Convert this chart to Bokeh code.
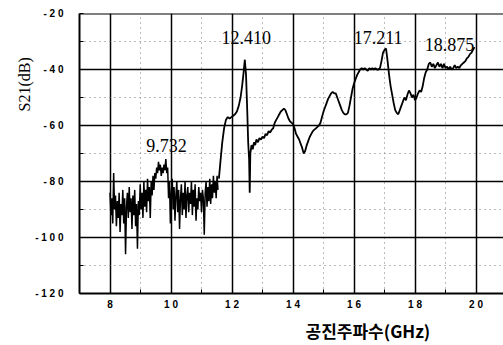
import numpy as np
from bokeh.plotting import figure
from bokeh.models import (Range1d, SingleIntervalTicker, Label, Span, Title)
from bokeh.embed import file_html
from bokeh.resources import INLINE

# ---------------- data ----------------
freq_noise = [8.00, 8.03, 8.06, 8.09, 8.12, 8.15, 8.18, 8.21, 8.24, 8.27,
              8.30, 8.33, 8.36, 8.39, 8.42, 8.45, 8.48, 8.51, 8.54, 8.57,
              8.60, 8.63, 8.66, 8.69, 8.72, 8.75, 8.78, 8.81, 8.84, 8.87,
              8.90, 8.93, 8.96, 8.99, 9.02, 9.05, 9.08, 9.11, 9.14, 9.17,
              9.20, 9.23, 9.26, 9.29, 9.32, 9.35, 9.38, 9.41, 9.44, 9.47,
              9.50, 9.53, 9.56, 9.59, 9.62, 9.65, 9.68, 9.71, 9.74, 9.77,
              9.80, 9.83, 9.86, 9.89, 9.92, 9.95, 9.98, 10.01, 10.04, 10.07,
              10.10, 10.13, 10.16, 10.19, 10.22, 10.25, 10.28, 10.31, 10.34, 10.37,
              10.40, 10.43, 10.46, 10.49, 10.52, 10.55, 10.58, 10.61, 10.64, 10.67,
              10.70, 10.73, 10.76, 10.79, 10.82, 10.85, 10.88, 10.91, 10.94, 10.97,
              11.00, 11.03, 11.06, 11.09, 11.12, 11.15, 11.18, 11.21, 11.24, 11.27,
              11.30, 11.33, 11.36, 11.39, 11.42, 11.45, 11.48, 11.51, 11.54]
s21_noise = [-84, -92, -86, -95, -77, -90, -85, -96, -87, -93,
             -84, -98, -88, -92, -83, -95, -86, -106, -89, -84,
             -93, -82, -91, -86, -97, -85, -92, -83, -96, -88,
             -104, -87, -92, -81, -90, -84, -93, -80, -89, -83,
             -91, -79, -87, -82, -93, -80, -85, -78, -83, -77,
             -79, -75, -77, -73, -76, -74, -78, -75, -77, -74,
             -76, -72, -77, -75, -86, -80, -95, -84, -79, -90,
             -82, -94, -85, -80, -91, -83, -97, -86, -81, -92,
             -84, -90, -80, -93, -85, -82, -91, -84, -88, -80,
             -92, -83, -89, -81, -94, -86, -90, -82, -87, -84,
             -91, -83, -86, -99, -84, -80, -89, -82, -87, -79,
             -88, -81, -86, -78, -84, -80, -86, -78, -83]

freq_smooth = [11.57, 11.62, 11.68, 11.74, 11.80, 11.86, 11.92, 11.98, 12.04, 12.10,
               12.16, 12.22, 12.28, 12.33, 12.38, 12.42, 12.46, 12.50, 12.53, 12.56,
               12.58, 12.60, 12.64, 12.68, 12.72, 12.76, 12.80, 12.85, 12.90, 12.95,
               13.00, 13.05, 13.10, 13.15, 13.20, 13.25, 13.30, 13.35, 13.40, 13.45,
               13.50, 13.55, 13.60, 13.65, 13.70, 13.75, 13.80, 13.85, 13.90, 13.95,
               14.00, 14.05, 14.10, 14.15, 14.20, 14.25, 14.30, 14.35, 14.40, 14.45,
               14.50, 14.55, 14.60, 14.65, 14.70, 14.75, 14.80, 14.85, 14.90, 14.95,
               15.00, 15.05, 15.10, 15.15, 15.20, 15.25, 15.30, 15.35, 15.40, 15.45,
               15.50, 15.55, 15.60, 15.65, 15.70, 15.75, 15.80, 15.85, 15.90, 15.95,
               16.00, 16.05, 16.10, 16.15, 16.20, 16.25, 16.30, 16.35, 16.40, 16.45,
               16.50, 16.55, 16.60, 16.65, 16.70, 16.75, 16.80, 16.85, 16.90, 16.95,
               17.00, 17.05, 17.10, 17.15, 17.20, 17.25, 17.30, 17.35, 17.40, 17.45,
               17.50, 17.55, 17.60, 17.65, 17.70, 17.75, 17.80, 17.85, 17.90, 17.95,
               18.00, 18.05, 18.10, 18.15, 18.20, 18.25, 18.30, 18.35, 18.40, 18.45,
               18.50, 18.55, 18.60, 18.65, 18.70, 18.75, 18.80, 18.85, 18.90, 18.95,
               19.00, 19.05, 19.10, 19.15, 19.20, 19.25, 19.30, 19.35, 19.40, 19.45,
               19.50, 19.55, 19.60, 19.65, 19.70, 19.75, 19.80, 19.85, 19.90, 19.95]
s21_smooth = [-79, -73, -66, -61, -58, -57, -57.5, -57, -56.5, -56,
              -55, -53, -50, -46, -41, -36.5, -42, -55, -66, -72,
              -84, -70, -67, -68.5, -66, -67, -65, -66, -64.5, -65,
              -64, -64.5, -63, -63.5, -62, -62.5, -61.5, -61, -59, -58,
              -57, -56, -55, -54.5, -54, -54.5, -56, -57.5, -58.5, -59,
              -59.5, -61, -63, -64, -65, -66.5, -68, -70, -69, -67,
              -65.5, -64, -63, -62, -61.5, -61, -60.5, -60, -59, -57,
              -55, -53.5, -52, -50.5, -49.5, -48.5, -48, -48.5, -48.5, -50,
              -51.5, -53, -54.5, -55.5, -56, -56, -55.5, -53, -50, -47,
              -45, -43.5, -42, -41, -40, -39.5, -40, -39.5, -40, -40.5,
              -39.5, -40, -39.5, -40, -39.5, -40, -40, -39.5, -37, -34,
              -33, -32.5, -37, -42, -46, -49, -52, -54.5, -55.5, -56,
              -54.5, -53, -51.5, -50, -51, -49, -47.5, -48.5, -50, -49,
              -51, -50, -48.5, -47.5, -48, -46, -43, -41, -40, -38,
              -37.5, -39, -38, -39.5, -38.5, -37.5, -39, -38, -39.5, -38,
              -39.5, -39, -40, -39, -40, -39.5, -38.5, -39.5, -39, -39.5,
              -38.5, -38, -37.5, -37, -36, -35.5, -34.5, -34, -33, -32]

x_ticks = [8, 10, 12, 14, 16, 18, 20]
x_tick_labels = ["8", "1 0", "1 2", "1 4", "1 6", "1 8", "2 0"]
y_ticks = [-120, -100, -80, -60, -40, -20]
y_tick_labels = ["- 1 2 0", "- 1 0 0", "- 8 0", "- 6 0", "- 4 0", "- 2 0"]

peak_labels = ["9.732", "12.410", "17.211", "18.875"]
peak_label_x = [9.85, 12.47, 16.79, 19.13]
peak_label_y = [-67.0, -28.5, -28.5, -31.0]

x_title = "공진주파수(GHz)"
y_title = "S21(dB)"

# ---------------- figure ----------------
p = figure(width=503, height=345, output_backend="svg", toolbar_location=None,
           x_range=Range1d(7, 20.9), y_range=Range1d(-120, -20),
           min_border_left=79, min_border_right=0, min_border_top=13,
           min_border_bottom=51)
p.background_fill_color = "white"
p.border_fill_color = "white"
p.outline_line_color = None

p.xaxis.ticker = SingleIntervalTicker(interval=2, num_minor_ticks=2)
p.yaxis.ticker = SingleIntervalTicker(interval=20, num_minor_ticks=2)
p.xaxis.major_label_overrides = dict(zip(x_ticks, x_tick_labels))
p.yaxis.major_label_overrides = dict(zip(y_ticks, y_tick_labels))

for ax in (p.xaxis[0], p.yaxis[0]):
    ax.axis_line_color = "black"
    ax.axis_line_width = 2
    ax.major_tick_in = 0
    ax.major_tick_out = 0
    ax.minor_tick_in = 4
    ax.minor_tick_out = 0
    ax.minor_tick_line_color = "black"
    ax.major_label_text_font = "Liberation Sans"
    ax.major_label_text_font_style = "bold"
    ax.major_label_text_font_size = "10px"
    ax.major_label_text_color = "black"
p.xaxis.major_label_standoff = 5
p.yaxis.major_label_standoff = 16

p.grid.grid_line_color = "black"
p.grid.grid_line_width = 1.5
p.grid.minor_grid_line_color = "#777777"
p.grid.minor_grid_line_dash = "1 4"
p.grid.minor_grid_line_width = 1

p.add_layout(Span(location=-20, dimension="width", line_color="black", line_width=2))

p.line(freq_noise, s21_noise, line_color="black", line_width=1.5)
p.line(freq_smooth, s21_smooth, line_color="black", line_width=1.8)

for t, lx, ly in zip(peak_labels, peak_label_x, peak_label_y):
    p.add_layout(Label(x=lx, y=ly, text=t, text_font="Liberation Serif",
                       text_font_size="18px", text_align="center",
                       text_baseline="middle", text_color="black"))

p.add_layout(Title(text=y_title, align="left", offset=182, standoff=0,
                   text_font="Liberation Serif", text_font_size="16px",
                   text_font_style="normal", text_color="black"), "left")
p.add_layout(Title(text=x_title, align="left", offset=226, standoff=6,
                   text_font="Noto Sans CJK KR", text_font_size="17px",
                   text_font_style="bold", text_color="black"), "below")

open("out.html", "w").write(file_html(p, INLINE))
